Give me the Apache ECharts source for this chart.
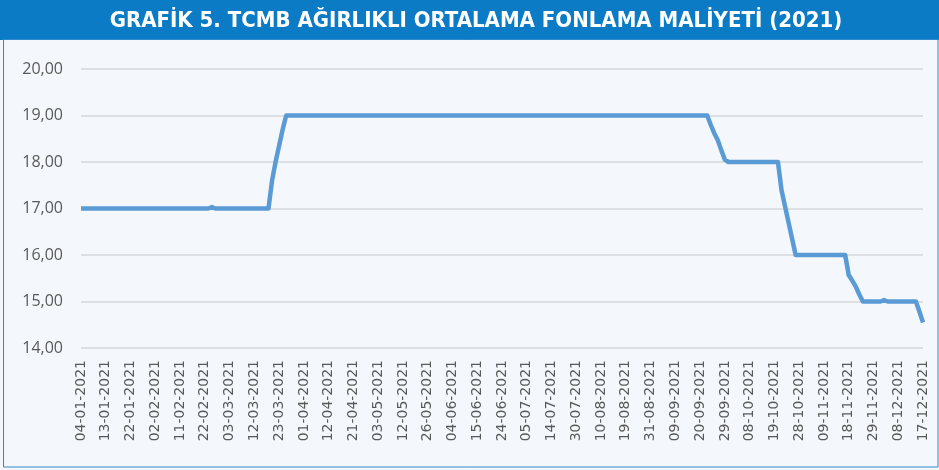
<!DOCTYPE html>
<html>
<head>
<meta charset="utf-8">
<script src="https://cdn.jsdelivr.net/npm/echarts@6/dist/echarts.min.js"></script>
<style>
html,body{margin:0;padding:0;background:#F4F8FC;}
#chart{width:939px;height:470px;}
</style>
</head>
<body>
<div id="chart"></div>
<script>
// Title
const chartTitle = 'GRAFİK 5. TCMB AĞIRLIKLI ORTALAMA FONLAMA MALİYETİ (2021)';

// Trading days: weekdays from 04-01-2021 to 17-12-2021, excluding these holidays
const holidays = ['23-04-2021','13-05-2021','14-05-2021','19-05-2021','15-07-2021',
  '20-07-2021','21-07-2021','22-07-2021','23-07-2021','30-08-2021','29-10-2021'];

// Weighted average funding cost (%), one value per trading day
const values = [
  17,17,17,17,17,17,17,17,17,17,
  17,17,17,17,17,17,17,17,17,17,
  17,17,17,17,17,17,17,17,17,17,
  17,17,17,17,17,17,17,17.03,17,17,
  17,17,17,17,17,17,17,17,17,17,
  17,17,17,17,17.6,18.0,18.35,18.7,19,19,
  19,19,19,19,19,19,19,19,19,19,
  19,19,19,19,19,19,19,19,19,19,
  19,19,19,19,19,19,19,19,19,19,
  19,19,19,19,19,19,19,19,19,19,
  19,19,19,19,19,19,19,19,19,19,
  19,19,19,19,19,19,19,19,19,19,
  19,19,19,19,19,19,19,19,19,19,
  19,19,19,19,19,19,19,19,19,19,
  19,19,19,19,19,19,19,19,19,19,
  19,19,19,19,19,19,19,19,19,19,
  19,19,19,19,19,19,19,19,19,19,
  19,19,19,19,19,19,19,19,18.8,18.62,
  18.47,18.25,18.05,18,18,18,18,18,18,18,
  18,18,18,18,18,18,18,18,17.4,17.05,
  16.7,16.35,16,16,16,16,16,16,16,16,
  16,16,16,16,16,16,16,15.57,15.45,15.32,
  15.15,15,15,15,15,15,15,15.03,15,15,
  15,15,15,15,15,15,15,14.78,14.55
];

// Y axis ticks
const yMin = 14, yMax = 20, yStep = 1;

function pad(n){ return (n < 10 ? '0' : '') + n; }
const categories = [];
(function(){
  const d = new Date(Date.UTC(2021, 0, 4));
  const end = new Date(Date.UTC(2021, 11, 17));
  while (d <= end) {
    const wd = d.getUTCDay();
    const s = pad(d.getUTCDate()) + '-' + pad(d.getUTCMonth() + 1) + '-' + d.getUTCFullYear();
    if (wd !== 0 && wd !== 6 && holidays.indexOf(s) < 0) categories.push(s);
    d.setUTCDate(d.getUTCDate() + 1);
  }
})();

const chart = echarts.init(document.getElementById('chart'), null, {renderer:'canvas'});
chart.setOption({
  backgroundColor: '#F4F8FC',
  animation: false,
  graphic: [
    { type:'rect', shape:{x:0,y:0,width:939,height:40}, style:{fill:'#0A7BC4'}, z:1 },
    { type:'text', x:476, y:21, z:2,
      style:{ text: chartTitle, fill:'#FFFFFF', align:'center', verticalAlign:'middle',
        font:'bold 22px "Liberation Sans Narrow", "DejaVu Sans Condensed", "Open Sans", sans-serif' } },
    { type:'rect', shape:{x:3.5,y:39.5,width:934.5,height:427.5}, style:{fill:'none', stroke:'#2F88CB', lineWidth:1}, z:3 }
  ],
  grid: { left: 81, right: 16, top: 69, bottom: 122, containLabel: false },
  xAxis: {
    type: 'category',
    data: categories,
    boundaryGap: false,
    axisLine: { show: false },
    axisTick: { show: false },
    axisLabel: {
      interval: 6, rotate: 90, margin: 12,
      color: '#595959', fontFamily: 'DejaVu Sans', fontSize: 14
    },
    splitLine: { show: false }
  },
  yAxis: {
    type: 'value',
    min: yMin, max: yMax, interval: yStep,
    axisLine: { show: false },
    axisTick: { show: false },
    axisLabel: {
      margin: 18, color: '#595959', fontFamily: 'Open Sans', fontSize: 16,
      formatter: v => v.toFixed(2).replace('.', ',')
    },
    splitLine: { lineStyle: { color: '#D5D8DC', width: 1.5 } }
  },
  series: [{
    type: 'line',
    data: values,
    showSymbol: false,
    symbol: 'none',
    lineStyle: { color: '#5B9BD5', width: 4.5, cap: 'butt', join: 'round' }
  }]
});
</script>
</body>
</html>
